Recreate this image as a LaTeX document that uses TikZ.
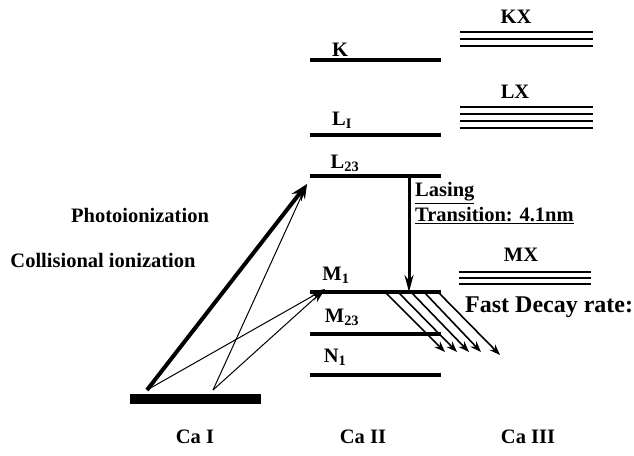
\documentclass[tikz,border=0pt]{standalone}
\usepackage{fontspec}
\setmainfont{Liberation Serif}
\usetikzlibrary{arrows.meta}
\begin{document}
\begin{tikzpicture}[x=1pt,y=-1pt,
  lvl/.style={line width=3.4pt},
  sublvl/.style={line width=2.4pt},
  lbl/.style={font=\fontsize{20.5}{22}\selectfont\bfseries, inner sep=0pt},
  biglbl/.style={font=\fontsize{24}{26}\selectfont\bfseries, inner sep=0pt},
  thinarr/.style={line width=1pt,-{Stealth[length=15pt,width=9pt]}},
  thickarr/.style={line width=4pt,-{Stealth[length=17pt,width=12pt]}},
  lasarr/.style={line width=3pt,-{Stealth[length=17pt,width=9pt]}},
  decarr/.style={line width=1.6pt,-{Stealth[length=11pt,width=8pt]}}]
\useasboundingbox (0,0) rectangle (634,455);

% Ca II levels
\coordinate (Kl) at (310,60);  \coordinate (Kr) at (441,60);
\coordinate (L1l) at (310,135); \coordinate (L1r) at (441,135);
\coordinate (L23l) at (310,176); \coordinate (L23r) at (441,176);
\coordinate (M1l) at (310,292); \coordinate (M1r) at (441,292);
\coordinate (M23l) at (310,334); \coordinate (M23r) at (441,334);
\coordinate (N1l) at (310,375); \coordinate (N1r) at (441,375);
\foreach \a in {K,L1,L23,M1,M23,N1} \draw[lvl] (\a l) -- (\a r);

\node[lbl] (K) at (340,50) {K};
\node[lbl] (L1) at (342,120) {L\textsubscript{I}};
\node[lbl] (L23) at (345,163) {L\textsubscript{23}};
\node[lbl] (M1) at (336,275) {M\textsubscript{1}};
\node[lbl] (M23) at (342,317) {M\textsubscript{23}};
\node[lbl] (N1) at (335,357) {N\textsubscript{1}};

% Ca III bands
\foreach \y in {32,39,46} \draw[sublvl] (460,\y) -- (593,\y);
\foreach \y in {107,114,121,128} \draw[sublvl] (460,\y) -- (593,\y);
\foreach \y in {272,278,284} \draw[sublvl] (459,\y) -- (591,\y);
\node[lbl] (KX) at (516,17) {KX};
\node[lbl] (LX) at (515,92) {LX};
\node[lbl] (MX) at (521,255) {MX};
\node[biglbl,anchor=west] (fast) at (465,307) {Fast Decay rate:};

% Ca I
\node[fill=black, minimum width=131pt, minimum height=10pt, inner sep=0pt] (caI) at (195.5,399) {};
\coordinate (s1) at (147,390);
\coordinate (s2) at (213,390);
\coordinate (tL) at (307,184);
\coordinate (tM) at (325,289);
\draw[thickarr] (s1) -- (tL);
\draw[thinarr] (s2) -- (tL);
\draw[thinarr] (s1) -- (tM);
\draw[thinarr] (s2) -- (tM);

\node[lbl] (photo) at (140,215) {Photoionization};
\node[lbl] (coll) at (103,260) {Collisional ionization};

% lasing
\coordinate (las0) at (409,176);
\coordinate (las1) at (409,292);
\draw[lasarr] (las0) -- (las1);
\node[lbl,anchor=west] (lasing) at (415,193) {\underline{Lasing}};
\node[lbl,anchor=west] (trans) at (415,216) {\underline{Transition: 4.1nm}};

% fast decay
\foreach \sx/\ex/\ey in {385/445/352, 398/457/352, 411/469/352, 424/481/352, 438/500/355}
  \draw[decarr] (\sx,292) -- (\ex,\ey);

% bottom labels
\node[lbl] (ca1) at (195,437) {Ca I};
\node[lbl] (ca2) at (363,437) {Ca II};
\node[lbl] (ca3) at (528,437) {Ca III};
\end{tikzpicture}
\end{document}
